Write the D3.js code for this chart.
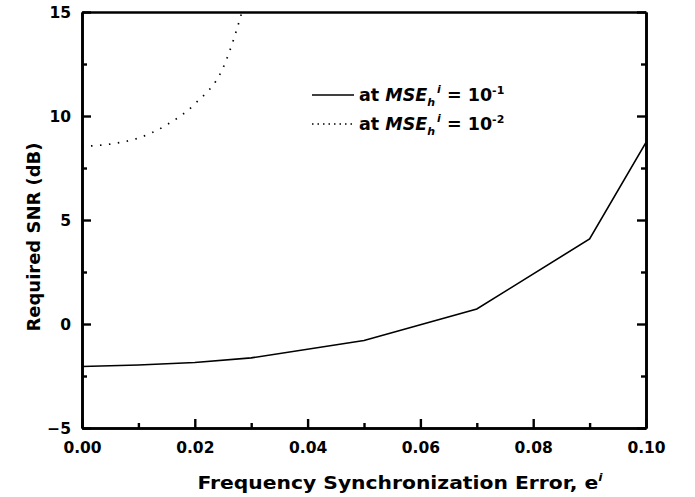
<!DOCTYPE html>
<html><head><meta charset="utf-8">
<script src="https://cdn.jsdelivr.net/npm/d3@7/dist/d3.min.js"></script>
<style>
body{margin:0;background:#fff;}
text{font-family:"DejaVu Sans",sans-serif;font-weight:bold;fill:#000;}
</style></head><body>
<svg id="chart" width="695" height="497"></svg>
<script>
// Data
const errA = [0, 0.01, 0.02, 0.03, 0.05, 0.07, 0.09, 0.10];
const snrA = [-2.04, -1.97, -1.85, -1.63, -0.79, 0.72, 4.09, 8.73];
const errB = [0, 0.005, 0.01, 0.015, 0.02, 0.025, 0.03];
const snrB = [8.54, 8.65, 8.94, 9.57, 10.58, 12.31, 16.6];
const xTicks = [0, 0.02, 0.04, 0.06, 0.08, 0.10];
const xMinor = [0.01, 0.03, 0.05, 0.07, 0.09];
const yTicks = [-5, 0, 5, 10, 15];
const yMinor = [-2.5, 2.5, 7.5, 12.5];

const FONT = "DejaVu Sans, sans-serif";
const svg = d3.select("#chart");
const L = 82, R = 646, T = 12, B = 428;
const x = d3.scaleLinear().domain([0, 0.10]).range([L, R]);
const y = d3.scaleLinear().domain([-5, 15]).range([B, T]);

svg.append("defs").append("clipPath").attr("id","clip")
  .append("rect").attr("x",L).attr("y",T).attr("width",R-L).attr("height",B-T);

// curves
const lineA = d3.line().x((d,i)=>x(errA[i])).y(d=>y(d));
svg.append("path").datum(snrA).attr("d", lineA)
  .attr("fill","none").attr("stroke","#000").attr("stroke-width",1.6)
  .attr("clip-path","url(#clip)");
const lineB = d3.line().x((d,i)=>x(errB[i])).y(d=>y(d)).curve(d3.curveMonotoneX);
svg.append("path").datum(snrB).attr("d", lineB)
  .attr("fill","none").attr("stroke","#000").attr("stroke-width",1.7)
  .attr("stroke-dasharray","1.5,7.5").attr("stroke-linecap","butt")
  .attr("clip-path","url(#clip)");

// axes
const fmtX = d3.format(".2f");
const gx = svg.append("g").attr("transform",`translate(0,${B})`)
  .call(d3.axisBottom(x).tickValues(xTicks).tickFormat(fmtX).tickSizeInner(-9).tickSizeOuter(0).tickPadding(14));
const gxm = svg.append("g").attr("transform",`translate(0,${B})`)
  .call(d3.axisBottom(x).tickValues(xMinor).tickFormat("").tickSizeInner(-5).tickSizeOuter(0));
const gy = svg.append("g").attr("transform",`translate(${L},0)`)
  .call(d3.axisLeft(y).tickValues(yTicks).tickFormat(d3.format("d")).tickSizeInner(-9).tickSizeOuter(0).tickPadding(11));
const gym = svg.append("g").attr("transform",`translate(${L},0)`)
  .call(d3.axisLeft(y).tickValues(yMinor).tickFormat("").tickSizeInner(-5).tickSizeOuter(0));
const gr = svg.append("g").attr("transform",`translate(${R},0)`)
  .call(d3.axisRight(y).tickValues(yTicks).tickFormat("").tickSizeInner(-9).tickSizeOuter(0));
const grm = svg.append("g").attr("transform",`translate(${R},0)`)
  .call(d3.axisRight(y).tickValues(yMinor).tickFormat("").tickSizeInner(-5).tickSizeOuter(0));
const gt = svg.append("g").attr("transform",`translate(0,${T})`)
  .call(d3.axisTop(x).tickValues([]).tickSizeOuter(0));
[gx,gxm,gy,gym,gr,grm,gt].forEach(g=>{
  g.selectAll("path.domain").attr("stroke","#000").attr("stroke-width",2.6);
  g.selectAll(".tick line").attr("stroke","#000").attr("stroke-width",2.4);
  g.selectAll("text").attr("font-size",15.5).attr("font-family",FONT).attr("font-weight","bold").attr("fill","#000");
});
gx.selectAll("text").attr("dy","0.71em");
gy.selectAll("text").attr("dy","0.36em");

// axis titles
const xt = svg.append("text").attr("x",400).attr("y",489).attr("text-anchor","middle")
  .attr("font-size",18).attr("textLength",405).attr("lengthAdjust","spacingAndGlyphs");
xt.append("tspan").text("Frequency Synchronization Error, e");
xt.append("tspan").attr("font-style","italic").attr("font-size",11).attr("dy",-8).text("i");

svg.append("text").attr("transform","translate(40,237) rotate(-90)").attr("text-anchor","middle")
  .attr("font-size",18).attr("textLength",189).attr("lengthAdjust","spacingAndGlyphs")
  .text("Required SNR (dB)");

// legend
const legend = [
  {y:95, dash:null, exp:"-1"},
  {y:124, dash:"1.5,4", exp:"-2"}
];
legend.forEach(l=>{
  svg.append("line").attr("x1",312).attr("x2",354).attr("y1",l.y).attr("y2",l.y)
    .attr("stroke","#000").attr("stroke-width",l.dash?1.7:1.6).attr("stroke-dasharray",l.dash);
  const t = svg.append("text").attr("x",359).attr("y",l.y+6).attr("font-size",17.5);
  t.append("tspan").text("at ");
  t.append("tspan").attr("font-style","italic").text("MSE");
  t.append("tspan").attr("font-style","italic").attr("font-size",11).attr("dy",5).text("h");
  t.append("tspan").attr("font-style","italic").attr("font-size",11).attr("dy",-13).attr("dx",2).text("i");
  t.append("tspan").attr("dy",8).text(" = 10");
  t.append("tspan").attr("font-size",11).attr("dy",-7).text(l.exp);
});
</script>
</body></html>
